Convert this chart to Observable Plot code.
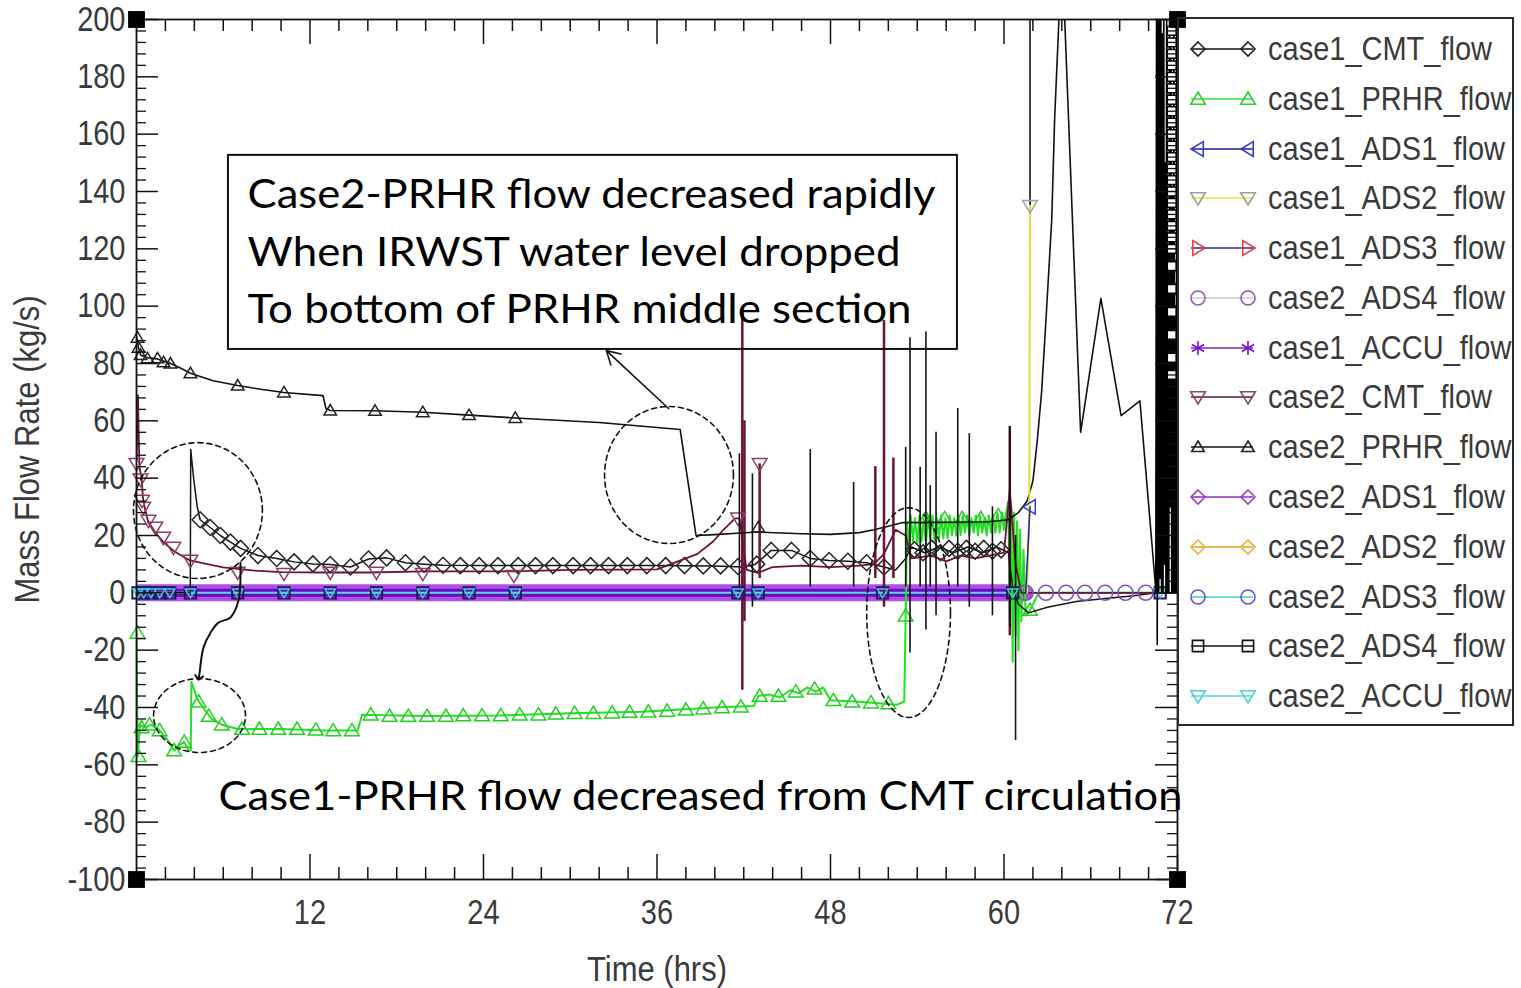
<!DOCTYPE html>
<html><head><meta charset="utf-8">
<script src="https://cdn.jsdelivr.net/npm/d3@7"></script>
<script src="https://cdn.jsdelivr.net/npm/@observablehq/plot@0.6"></script>
<style>
body{margin:0;background:#fff;}
#wrap{position:relative;width:1521px;height:988px;overflow:hidden;background:#fff;}
#chart{position:absolute;left:0;top:0;}
#legend{position:absolute;left:1177px;top:17px;width:337px;height:709px;border:2px solid #2a2a2a;box-sizing:border-box;overflow:hidden;z-index:2;}
.row{position:absolute;left:0;height:50px;width:400px;}
.row svg{position:absolute;left:0;top:0;}
.row span{position:absolute;left:89px;top:8px;font-family:"Liberation Sans",Arial,sans-serif;font-size:29px;line-height:34px;color:#3a3a3a;white-space:nowrap;transform:scaleY(1.14);transform-origin:left center;}
</style>
</head><body>
<div id="wrap"><div id="chart"></div><div id="legend"></div></div>
<script>
// ---------------- data (time in hrs, mass flow rate in kg/s) ----------------
const xTicks = [12, 24, 36, 48, 60, 72];
const yTicks = [200, 180, 160, 140, 120, 100, 80, 60, 40, 20, 0, -20, -40, -60, -80, -100];
const xMinor = d3.range(2, 72, 2).filter(d => d % 12 !== 0);
const yMinor = d3.range(-96, 200, 4).filter(d => d % 20 !== 0);

const case2PRHR = [[0,89.5],[0.14,85.5],[0.28,83],[0.76,82],[1.45,81.6],[2.35,80],[3.0,78.5],[3.73,76.6],[5.3,74],[7.0,72.3],[8.6,71],[10.2,69.9],[12.9,68.8],[13.1,64.3],[13.4,63.6],[16.5,63.5],[19.8,63],[23.0,62],[26.2,61],[32,59.4],[37.6,57],[38.7,20],[40,20.3],[41.5,20.8],[43,21.2],[46,20.6],[48,20.4],[50,21],[51,22],[52,23.2],[53,24.5],[56,24.6],[59,24.8],[60.3,25.5],[61,28],[61.6,32],[62,39],[62.3,53],[62.6,70],[62.9,95],[63.3,130],[63.5,165],[63.8,200],[64.0,212],[64.2,200],[65.3,56],[66.7,102.7],[68.1,61.8],[69.4,67],[70.5,1]];
const case2PRHRMarks = [[0.07,89],[0.14,85.5],[0.28,83],[0.76,81.8],[1.45,81.8],[1.87,80.4],[2.35,80],[3.73,76.6],[7.0,72.3],[10.2,69.9],[13.4,63.6],[16.5,63.5],[19.8,63],[23.0,62],[26.2,61],[43,22.8]];

const case1PRHR = [[0,-14],[0.08,-57],[0.25,-46],[0.6,-47],[1.0,-46],[1.6,-48],[2.1,-51],[2.6,-55],[3.0,-53],[3.3,-52],[3.6,-55],[3.75,-55],[3.8,-31],[4.2,-37],[4.6,-40],[5.2,-44],[5.9,-46],[7.0,-47.5],[10,-47.5],[13,-48],[15.3,-48],[15.6,-42.5],[20,-43],[25,-42.8],[30,-42],[35,-41.5],[40,-40],[42.7,-39.5],[43.0,-36],[43.8,-35.5],[44.5,-36.5],[45.2,-34],[45.8,-35],[46.4,-33],[47,-34.5],[47.5,-33],[48,-37.5],[50,-38],[52.6,-39],[53.1,-38],[53.2,-8],[53.3,24],[53.4,17],[53.55,27],[53.7,18],[53.85,26],[54.0,17],[54.15,27],[54.3,18],[54.45,26],[54.6,17],[54.75,27],[54.9,19],[55.05,27],[55.2,18],[55.35,26],[55.5,19],[55.65,27],[55.8,19],[55.95,26],[56.1,19],[56.25,27],[56.4,20],[56.55,26],[56.7,20],[56.85,27],[57.0,20],[57.15,27],[57.3,21],[57.45,27],[57.6,20],[57.75,26],[57.9,21],[58.05,27],[58.2,20],[58.35,27],[58.5,21],[58.65,26],[58.8,20],[58.95,27],[59.1,21],[59.25,27],[59.4,21],[59.55,28],[59.7,21],[59.85,28],[60.0,22],[60.15,28],[60.3,32],[60.4,-10],[60.5,30],[60.6,-24],[60.7,28],[60.8,-15],[60.9,25],[61.0,-20],[61.1,22],[61.2,-10],[61.35,15],[61.5,-8],[61.8,-6],[62.4,0],[72,0]];
const case1PRHRMarks = [[0.07,-14],[0.14,-57],[0.35,-47],[0.9,-46],[1.6,-48],[2.6,-55],[3.3,-52],[4.3,-38],[5.0,-43],[5.9,-46],[7.3,-47.5],[8.5,-47.5],[9.8,-47.5],[11.1,-47.5],[12.4,-47.8],[13.6,-48],[14.9,-48],[16.2,-42.5],[17.5,-43],[18.8,-43],[20.1,-43],[21.4,-43],[22.6,-42.8],[23.9,-42.8],[25.2,-42.8],[26.5,-42.5],[27.8,-42.5],[29.0,-42.2],[30.3,-42],[31.6,-42],[32.9,-41.8],[34.1,-41.6],[35.4,-41.5],[36.7,-41.2],[38.0,-40.8],[39.2,-40.4],[40.5,-40],[41.8,-39.7],[43.1,-36],[44.4,-36],[45.6,-34.5],[46.9,-33.5],[48.2,-37.5],[49.5,-38],[50.8,-38.3],[52.0,-38.6],[53.2,-8],[54.6,26],[55.9,26],[57.1,26],[58.4,26],[59.6,27],[61.8,-6]];

const case1CMT = [[0,0],[3.72,0],[3.75,50],[3.95,40],[4.2,30],[4.4,25.5],[5.1,22.8],[5.8,20],[6.5,17.7],[7.2,15.5],[8.4,13],[9.7,12],[10.9,10.8],[12.2,10.1],[13.4,9.9],[14.8,9.0],[16.05,11.8],[17.3,12.2],[18.6,10.5],[19.9,10],[21.2,9.6],[24,9.5],[30,9.5],[36,9.5],[40,9.4],[42,9],[42.8,10],[43.9,14.8],[45.3,14.8],[46.6,12],[47.9,11.3],[49.2,11],[50.5,10.5],[51.7,9],[52.5,8],[53.2,12],[53.6,16],[54.5,14],[55.5,16],[56.5,14],[57.5,16],[58.5,14],[59.5,16],[60.3,14],[60.6,2],[61,-4],[61.7,-7],[63,-5],[65,-3],[67,-2],[69,-1],[70.5,0]];
const case1CMTMarks = [[4.4,25.5],[5.1,22.8],[5.8,20],[6.5,17.7],[7.2,15.5],[8.4,13],[9.7,12],[10.9,10.8],[12.2,10.1],[13.4,9.9],[14.8,9.0],[16.05,11.8],[17.3,12.2],[18.6,10.5],[19.9,10],[21.2,9.6],[22.4,9.5],[23.7,9.5],[25.0,9.5],[26.4,9.5],[27.6,9.5],[28.8,9.5],[30.2,9.5],[31.4,9.5],[32.65,9.5],[33.95,9.5],[35.3,9.5],[36.6,9.5],[37.9,9.5],[39.2,9.4],[40.4,9.4],[41.6,9.2],[42.9,10],[43.9,14.8],[45.3,14.8],[46.6,12],[47.9,11.3],[49.2,11],[50.5,10.5],[51.7,9],[53.8,15],[54.4,14],[55.0,15.5],[55.6,14],[56.2,15.5],[56.8,14.5],[57.4,15.5],[58.0,14.5],[58.6,15.5],[59.2,14.5],[59.8,15]];

const case2CMT = [[0,46],[0.1,69],[0.2,44],[0.35,40],[0.45,33],[0.55,30],[0.8,25],[1.3,21],[1.9,17.5],[2.6,14.5],[3.7,11.3],[4.9,10],[6.0,8.9],[8.0,7.8],[10,7.2],[13,7.1],[16,7.1],[20,7.5],[26,7.5],[30,8],[36,8.2],[38.8,13.6],[39.9,18],[40.6,22],[41.4,26],[41.7,26],[42.2,8],[43,7],[44,9],[46,9.5],[48,9],[50,9.5],[51,10],[51.7,13.6],[52.5,22],[53.2,20],[53.6,12],[55,13],[56,11],[57,13],[58,12],[59,13],[60,14],[60.4,36],[60.8,10],[61.2,0],[72,0]];
const case2CMTMarks = [[0,45],[0.28,39.6],[0.38,32.2],[0.47,29.8],[0.83,25.2],[1.3,22.8],[1.85,19.3],[2.55,15.8],[3.73,11.3],[7.0,7.1],[10.2,6.7],[13.4,7.1],[16.6,7.1],[19.8,6.7],[26.1,6],[41.6,26],[43.1,45]];
// transient spikes: [time, low, high]
const case2CMTSpikes = [[41.9,-34,98.5],[42.05,-10,60],[43.1,5,45],[51.1,5,44],[51.7,-5,95],[52.35,5,47],[60.4,-15,58]];
const blackSpikes = [[41.7,0,48.5],[42.6,-5,41.5],[46.6,2,50],[49.6,2,38.5],[53.2,2,50.7],[53.5,-21,89],[54.2,2,43.8],[54.6,-13,91],[54.9,2,37.4],[55.3,-8,56],[56.8,2,64.3],[57.6,-5,55.5],[59.2,-8,30],[60.4,-12,58],[60.8,-51.5,20],[61.8,135,205]];

const case1ACCU = [[0,0],[61.2,0]];
const case2ADS1 = [[0,0],[61.4,0]];
const case2ACCU = [[0,0],[72,0]];
const zeroMarkTimes = [0.1,0.5,1.0,1.6,2.3,3.73,7.0,10.2,13.4,16.6,19.8,23.0,26.2,41.6,43.0,51.6,60.6,70.8];
const case2ADS3Marks = [[61.5,0],[62.9,0],[64.3,0],[65.6,0],[67.0,0],[68.4,0],[69.8,0]];
const case1ADS1 = [[61.5,0],[61.8,30]];
const case1ADS2 = [[61.6,0],[61.75,30],[61.8,135]];
const case2ADS4End = [[70.5,0],[70.55,200],[70.6,-18],[70.65,200],[70.7,0],[70.75,205],[70.8,5],[70.85,200],[70.9,0],[70.95,195],[71.0,0],[71.05,205],[71.1,10],[71.15,150],[71.2,0],[71.25,205],[71.3,0],[71.35,120],[71.4,0],[71.45,205],[71.5,30],[71.55,190],[71.6,0],[71.65,140],[71.7,0],[71.75,205],[71.8,0],[71.85,100],[71.9,0],[71.95,205],[72,0]];
const case2ADS4Ladder = [196,192,188,184,180,176,172,168,164,160,156,152,148,144,140,136,132,128,124,120,114,106,98,90,82,76];

// legend
const legendNames = ["case1_CMT_flow","case1_PRHR_flow","case1_ADS1_flow","case1_ADS2_flow","case1_ADS3_flow","case2_ADS4_flow","case1_ACCU_flow","case2_CMT_flow","case2_PRHR_flow","case2_ADS1_flow","case2_ADS2_flow","case2_ADS3_flow","case2_ADS4_flow","case2_ACCU_flow"];
const legendLine = ["#111","#33dd33","#1a1a9a","#e8e040","#2a2a90","#c8c8c8","#7a20c8","#5a1030","#111","#8a30b8","#e0a020","#40d0d0","#111","#50d8d8"];
const legendMarker = ["#222","#33cc33","#3a3ad0","#a0a0a0","#e04040","#9a50b8","#7a10d0","#8a4a6a","#222","#9a40c8","#e8b040","#6a50c8","#111","#50d0d0"];
const legendSymbol = ["diamond","triUp","triLeft","triDown","triRight","circle","asterisk","triDown","triUp","diamond","diamond","circle","square","triDown"];

// annotations (data coordinates)
const annoBox = [{t1:6.36, t2:56.78, v1:84.9, v2:152.6}];
const annoText = [
  {t:7.68, v:138.6, s:"Case2-PRHR flow decreased rapidly", w:688},
  {t:7.68, v:118.4, s:"When IRWST water level dropped", w:653},
  {t:7.68, v:98.5, s:"To bottom of PRHR middle section", w:664},
  {t:5.67, v:-71.4, s:"Case1-PRHR flow decreased from CMT circulation", w:964}
];
const ellipses = [{t:4.25,v:28.7,rt:4.46,rv:23.7},{t:4.36,v:-42.8,rt:3.18,rv:12.9},{t:36.83,v:41.1,rt:4.46,rv:23.9},{t:53.4,v:-6.9,rt:2.9,rv:36.6}];
const straightArrow = [{x1:36.8,y1:64.3,x2:32.5,y2:84.5}];
const curvedArrow = [[7.19,10.6],[7.05,-2.7],[6.5,-8.6],[5.67,-10.4],[5.12,-13.9],[4.63,-19.1],[4.36,-28.0],[4.31,-29.6]];
const corners = [[0,200],[72,200],[0,-100],[72,-100]];

// ---------------- symbols ----------------
const SYM = {
  triUp:{draw(c,s){const r=Math.sqrt(s/Math.PI);c.moveTo(0,-r);c.lineTo(r*1.05,r*0.75);c.lineTo(-r*1.05,r*0.75);c.closePath();}},
  triDown:{draw(c,s){const r=Math.sqrt(s/Math.PI);c.moveTo(0,r);c.lineTo(r*1.05,-r*0.75);c.lineTo(-r*1.05,-r*0.75);c.closePath();}},
  triLeft:{draw(c,s){const r=Math.sqrt(s/Math.PI);c.moveTo(-r,0);c.lineTo(r*0.75,-r*1.05);c.lineTo(r*0.75,r*1.05);c.closePath();}},
  triRight:{draw(c,s){const r=Math.sqrt(s/Math.PI);c.moveTo(r,0);c.lineTo(-r*0.75,-r*1.05);c.lineTo(-r*0.75,r*1.05);c.closePath();}},
  diamond:{draw(c,s){const r=Math.sqrt(s/Math.PI);c.moveTo(0,-r);c.lineTo(r,0);c.lineTo(0,r);c.lineTo(-r,0);c.closePath();}},
  square:{draw(c,s){const r=Math.sqrt(s/Math.PI)*0.8;c.moveTo(-r,-r);c.lineTo(r,-r);c.lineTo(r,r);c.lineTo(-r,r);c.closePath();}},
  circle:{draw(c,s){const r=Math.sqrt(s/Math.PI);c.moveTo(r,0);c.arc(0,0,r,0,2*Math.PI);}},
  asterisk:{draw(c,s){const r=Math.sqrt(s/Math.PI);c.moveTo(0,-r);c.lineTo(0,r);c.moveTo(-r*0.87,-r*0.5);c.lineTo(r*0.87,r*0.5);c.moveTo(-r*0.87,r*0.5);c.lineTo(r*0.87,-r*0.5);}}
};

const X = d => d[0], Y = d => d[1];
const ln = (data, stroke, w = 1.5, extra = {}) => Plot.line(data, {x: X, y: Y, stroke, strokeWidth: w, clip: true, ...extra});
const mk = (data, sym, stroke, r = 7, extra = {}) => Plot.dot(data, {x: X, y: Y, symbol: SYM[sym], stroke, fill: "none", r, strokeWidth: 1.5, ...extra});
const spikes = (data, stroke, w) => Plot.ruleX(data, {x: d => d[0], y1: d => d[1], y2: d => d[2], stroke, strokeWidth: w, clip: true});

const ellPts = ellipses.flatMap((e, k) => d3.range(0, 365, 5).map(a => ({k, x: e.t + e.rt * Math.cos(a * Math.PI / 180), y: e.v + e.rv * Math.sin(a * Math.PI / 180)})));

const FH = 860, FW = 1041; // frame size in px (for tick insets)
const tickFont = "'Liberation Sans', Arial, sans-serif";

const chart = Plot.plot({
  width: 1521, height: 988,
  marginLeft: 136, marginRight: 344, marginTop: 19, marginBottom: 109,
  x: {domain: [0, 72], axis: null},
  y: {domain: [-100, 200], axis: null},
  style: {background: "transparent", overflow: "visible"},
  marks: [
    // zero band
    ln(case2ADS1, "#a030e0", 17, {strokeOpacity: 0.85}),
    ln(case1ACCU, "#6a0cc0", 8),
    ln(case2ACCU, "#5ad8ea", 2),
    // case1 PRHR
    ln(case1PRHR, "#22e022", 2),
    mk(case1PRHRMarks, "triUp", "#22d022", 7),
    // case1 CMT
    ln(case1CMT, "#151515", 1.5),
    mk(case1CMTMarks, "diamond", "#252525", 8),
    // case2 CMT
    ln(case2CMT, "#6b1238", 1.8),
    spikes(case2CMTSpikes, "#6b1238", 2.5),
    mk(case2CMTMarks, "triDown", "#8a4066", 7),
    spikes(blackSpikes, "#111", 1.6),
    // case2 PRHR
    ln(case2PRHR, "#111", 1.6),
    mk(case2PRHRMarks, "triUp", "#222", 6),
    // ADS lines
    ln(case1ADS2, "#e0dc30", 2),
    mk([case1ADS2[2]], "triDown", "#a0a0a0", 7),
    ln(case1ADS1, "#2020b0", 1.5),
    mk([case1ADS1[1]], "triLeft", "#3a3ad0", 7),
    mk(case2ADS3Marks, "circle", "#8050c8", 7.5),
    // zero markers
    mk(zeroMarkTimes.map(t => [t, 0]), "square", "#1a1a50", 7, {strokeWidth: 2}),
    mk(zeroMarkTimes.map(t => [t, 0]), "triDown", "#3cc8dc", 5),
    // end region
    ln(case2ADS4End, "#000", 1.6),
    Plot.dot(case2ADS4Ladder, {x: () => 71.6, y: d => d, symbol: SYM.square, r: 5.5, fill: "white", stroke: "#000", strokeWidth: 1.5}),
    // frame & ticks
    Plot.frame({stroke: "#111", strokeWidth: 1.8}),
    Plot.tickX(xTicks, {x: d => d, insetTop: FH - 25, stroke: "#111", strokeWidth: 1.5}),
    Plot.tickX(xTicks, {x: d => d, insetBottom: FH - 25, stroke: "#111", strokeWidth: 1.5}),
    Plot.tickX(xMinor, {x: d => d, insetTop: FH - 12, stroke: "#111", strokeWidth: 1.5}),
    Plot.tickX(xMinor, {x: d => d, insetBottom: FH - 12, stroke: "#111", strokeWidth: 1.5}),
    Plot.tickY(yTicks, {y: d => d, insetRight: FW - 22, stroke: "#111", strokeWidth: 1.5}),
    Plot.tickY(yTicks, {y: d => d, insetLeft: FW - 22, stroke: "#111", strokeWidth: 1.5}),
    Plot.tickY(yMinor, {y: d => d, insetRight: FW - 10, stroke: "#111", strokeWidth: 1.3}),
    Plot.tickY(yMinor, {y: d => d, insetLeft: FW - 10, stroke: "#111", strokeWidth: 1.3}),
    Plot.dot(corners, {x: X, y: Y, symbol: "square", r: 9.5, fill: "#000"}),
    // tick labels & titles
    Plot.text(yTicks, {y: d => d, text: d => String(d), frameAnchor: "left", dx: -11, textAnchor: "end", lineAnchor: "middle", fontSize: 29, fontFamily: tickFont, fill: "#3a3a3a", ariaDescription: "ylab"}),
    Plot.text(xTicks, {x: d => d, text: d => String(d), frameAnchor: "bottom", dy: 33, textAnchor: "middle", lineAnchor: "middle", fontSize: 29, fontFamily: tickFont, fill: "#3a3a3a", ariaDescription: "xlab"}),
    Plot.text(["Mass Flow Rate (kg/s)"], {frameAnchor: "left", dx: -109, rotate: -90, textAnchor: "middle", lineAnchor: "middle", fontSize: 31, fontFamily: tickFont, fill: "#3a3a3a", ariaDescription: "ytitle"}),
    Plot.text(["Time (hrs)"], {frameAnchor: "bottom", dy: 90, textAnchor: "middle", lineAnchor: "middle", fontSize: 31, fontFamily: tickFont, fill: "#3a3a3a", ariaDescription: "xtitle"}),
    // annotations
    Plot.line(ellPts, {x: "x", y: "y", z: "k", stroke: "#111", strokeWidth: 1.6, strokeDasharray: "5,4"}),
    Plot.rect(annoBox, {x1: "t1", x2: "t2", y1: "v1", y2: "v2", fill: "none", stroke: "#111", strokeWidth: 2}),
    Plot.arrow(straightArrow, {x1: "x1", y1: "y1", x2: "x2", y2: "y2", stroke: "#111", strokeWidth: 1.6, headLength: 14}),
    Plot.line(curvedArrow, {x: X, y: Y, curve: "catmull-rom", stroke: "#111", strokeWidth: 2, markerEnd: "arrow"}),
    Plot.text(annoText, {x: "t", y: "v", text: "s", textAnchor: "start", lineAnchor: "middle", fontSize: 40, fontFamily: "Lato, 'Open Sans', sans-serif", fill: "#000", ariaDescription: "annot"})
  ]
});
document.getElementById("chart").appendChild(chart);

// stretch axis texts vertically around their own centre (the reference font is tall and narrow)
function stretch(label, s) {
  chart.querySelectorAll(`g[aria-description="${label}"] text`).forEach(t => {
    const b = t.getBBox();
    const cy = b.y + b.height / 2;
    const tr = t.getAttribute("transform") || "";
    t.setAttribute("transform", `${tr} translate(0,${cy}) scale(1,${s}) translate(0,${-cy})`);
  });
}
stretch("ylab", 1.2); stretch("xlab", 1.2); stretch("ytitle", 1.15); stretch("xtitle", 1.15);
chart.querySelectorAll(`g[aria-description="annot"] text`).forEach((t, i) => {
  t.setAttribute("textLength", annoText[i].w);
  t.setAttribute("lengthAdjust", "spacingAndGlyphs");
});

// legend
const legend = document.getElementById("legend");
legendNames.forEach((name, i) => {
  const row = document.createElement("div");
  row.className = "row";
  row.style.top = (5.1 + i * 49.77) + "px";
  const svg = d3.create("svg").attr("width", 88).attr("height", 50);
  svg.append("line").attr("x1", 12).attr("x2", 74).attr("y1", 25).attr("y2", 25).attr("stroke", legendLine[i]).attr("stroke-width", 1.6);
  const r = i === 8 ? 6 : 7;
  [19, 69].forEach(cx => {
    const p = d3.path();
    SYM[legendSymbol[i]].draw(p, Math.PI * r * r);
    svg.append("path").attr("d", p.toString()).attr("transform", `translate(${cx},25)`).attr("fill", "none").attr("stroke", legendMarker[i]).attr("stroke-width", 1.6);
  });
  row.appendChild(svg.node());
  const span = document.createElement("span");
  span.textContent = name;
  row.appendChild(span);
  legend.appendChild(row);
});
</script>
</body></html>
